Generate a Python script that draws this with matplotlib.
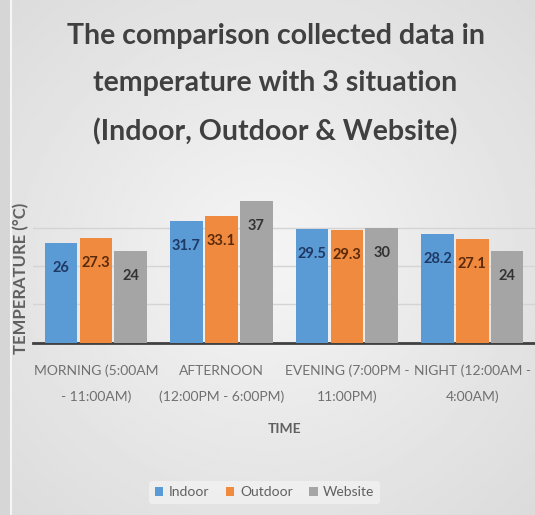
import numpy as np
import matplotlib.pyplot as plt

# === Data ===
categories = ["MORNING (5:00AM\n- 11:00AM)", "AFTERNOON\n(12:00PM - 6:00PM)",
              "EVENING (7:00PM -\n11:00PM)", "NIGHT (12:00AM -\n4:00AM)"]
series_names = ["Indoor", "Outdoor", "Website"]
indoor = [26, 31.7, 29.5, 28.2]
outdoor = [27.3, 33.1, 29.3, 27.1]
website = [24, 37, 30, 24]

colors = ["#5B9BD5", "#F08A3E", "#A5A5A5"]
label_colors = ["#1F3864", "#5A2A0A", "#333333"]

plt.rcParams['font.family'] = ['Lato', 'DejaVu Sans']

fig = plt.figure(figsize=(5.35, 5.15), dpi=100)

# radial grey background, lighter in the middle
bg = fig.add_axes([0, 0, 1, 1], zorder=-10)
yy, xx = np.mgrid[-1:1:200j, -1:1:200j]
r = np.clip(np.sqrt(xx**2 + yy**2) / 1.414, 0, 1)
bg.imshow(0.96 - 0.10 * r, cmap="gray", vmin=0, vmax=1, aspect="auto",
          extent=[0, 1, 0, 1], interpolation="bilinear")
bg.set_xlim(0, 1)
bg.set_ylim(0, 1)
bg.axvspan(0, 0.018, color="#d6d6d6", lw=0)
bg.axvline(0.02, color="#f6f6f6", lw=1.5)
bg.axis("off")

ax = fig.add_axes([0.062, 0.334, 0.938, 0.299])
ax.patch.set_alpha(0)

x = np.arange(len(categories))
width = 0.26
gap = 0.018
for i, (vals, name) in enumerate(zip([indoor, outdoor, website], series_names)):
    pos = x + (i - 1) * (width + gap)
    bars = ax.bar(pos, vals, width, color=colors[i], label=name, zorder=3)
    for b, v in zip(bars, vals):
        ax.annotate(f"{v:g}", (b.get_x() + b.get_width() / 2, v),
                    xytext=(0, -25), textcoords="offset pixels",
                    ha="center", va="center", fontsize=10.5, fontweight="bold",
                    color=label_colors[i], zorder=4)

ax.set_xlim(-0.5, len(categories) - 0.5)
ax.set_ylim(0, 40)
ax.set_yticks([10, 20, 30])
ax.yaxis.grid(True, color="#d4d4d4", linewidth=1, zorder=0)
ax.tick_params(axis="y", left=False, labelleft=False)
ax.tick_params(axis="x", bottom=False, pad=12)
ax.set_xticks(x)
ax.set_xticklabels(categories, fontsize=10, color="#707070", linespacing=2.3)
for s in ["top", "right", "left"]:
    ax.spines[s].set_visible(False)
ax.spines["bottom"].set_color("#404040")
ax.spines["bottom"].set_linewidth(2)

ax.set_xlabel("TIME", fontsize=10, fontweight="bold", color="#606060", labelpad=14)
fig.text(0.04, 0.46, "TEMPERATURE (°C)", rotation=90, ha="center", va="center",
         fontsize=12, fontweight="bold", color="#606060")

fig.text(0.515, 0.836, "The comparison collected data in\ntemperature with 3 situation\n(Indoor, Outdoor & Website)",
         ha="center", va="center", fontsize=20.5, fontweight="bold", color="#404040",
         linespacing=2.0)

leg = fig.legend(loc="center", bbox_to_anchor=(0.495, 0.044), ncol=3, frameon=True,
                 fontsize=10, handlelength=0.6, handleheight=0.6, columnspacing=1.2,
                 handletextpad=0.4, labelcolor="#606060")
leg.get_frame().set_facecolor("#f2f2f2")
leg.get_frame().set_edgecolor("none")

fig.savefig("out.png", dpi=100)
